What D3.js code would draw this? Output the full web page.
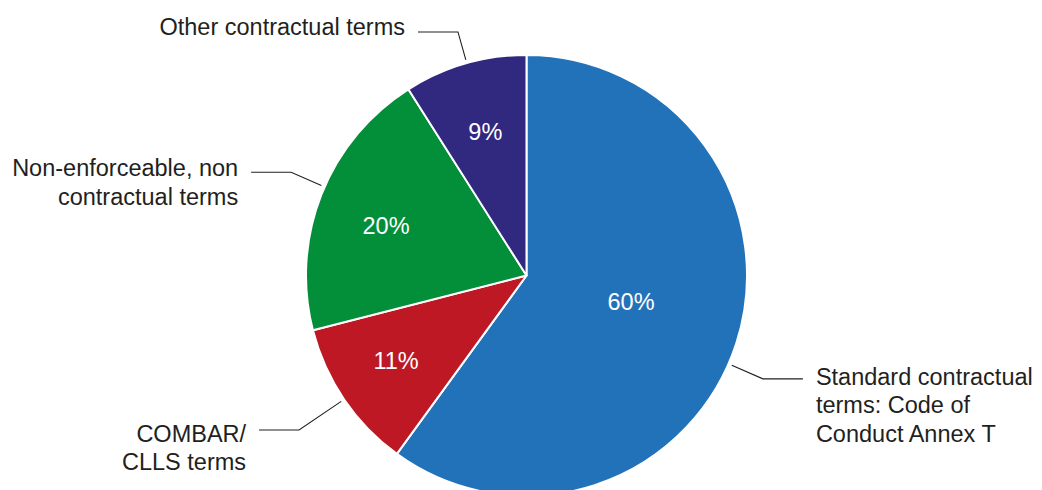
<!DOCTYPE html>
<html>
<head>
<meta charset="utf-8">
<script src="https://cdn.jsdelivr.net/npm/d3@7"></script>
<style>
  html, body { margin: 0; padding: 0; background: #fff; }
  svg { display: block; }
  text { font-family: "Liberation Sans", Arial, Helvetica, sans-serif; }
</style>
</head>
<body>
<div id="chart"></div>
<script>
// Share of contract terms by type (%)
const categories = [
  "Standard contractual terms: Code of Conduct Annex T",
  "COMBAR/ CLLS terms",
  "Non-enforceable, non contractual terms",
  "Other contractual terms"
];
const shares = [60, 11, 20, 9];
const labelLines = [
  ["Standard contractual", "terms: Code of", "Conduct Annex T"],
  ["COMBAR/", "CLLS terms"],
  ["Non-enforceable, non", "contractual terms"],
  ["Other contractual terms"]
];
const colors = ["#2272b9", "#bd1823", "#038f3a", "#31287f"];

// Layout
const width = 1042, height = 490;
const cx = 526.5, cy = 275.5, R = 220.5;
const fontSize = 23.5, lineHeight = 28.5;
const textColor = "#231f20";
// where inside each slice (fraction of its sweep) the value label and the leader sit
const valueAt = [0.482, 0.525, 0.472, 0.506];
const valueR = [0.489, 0.707, 0.676, 0.677];
const leaderAt = [0.526, 0.5, 0.529, 0.515];
const leaderStartR = R + 3.5;
const elbowR = [258, 275, 257, 253];
const leaderRun = 40, textGap = 13;
const textDy = [6, 11.7, 4, 3.3];

const svg = d3.select("#chart").append("svg")
  .attr("width", width).attr("height", height);

const data = categories.map((c, i) => ({ name: c, value: shares[i], i }));
const pie = d3.pie().value(d => d.value).sort(null);
const arcs = pie(data);
const arc = d3.arc().innerRadius(0).outerRadius(R);

const g = svg.append("g").attr("transform", `translate(${cx},${cy})`);

g.selectAll("path.slice").data(arcs).join("path")
  .attr("class", "slice")
  .attr("d", arc)
  .attr("fill", d => colors[d.data.i])
  .attr("stroke", "#fff")
  .attr("stroke-width", 2)
  .attr("stroke-linejoin", "round");

const polar = (a, r) => [Math.sin(a) * r, -Math.cos(a) * r];
const angleAt = (d, f) => d.startAngle + (d.endAngle - d.startAngle) * f;

// value labels inside the slices
g.selectAll("text.value").data(arcs).join("text")
  .attr("class", "value")
  .each(function(d) {
    const [x, y] = polar(angleAt(d, valueAt[d.data.i]), R * valueR[d.data.i]);
    d3.select(this).attr("x", x).attr("y", y);
  })
  .attr("dy", "0.358em")
  .attr("text-anchor", "middle")
  .attr("fill", "#fff")
  .attr("font-size", fontSize)
  .text(d => d.data.value + "%");

// leader lines and category labels
arcs.forEach(d => {
  const i = d.data.i;
  const a = angleAt(d, leaderAt[i]);
  const right = Math.sin(a) > 0;
  const p0 = polar(a, leaderStartR);
  const p1 = polar(a, elbowR[i]);
  const p2 = [p1[0] + (right ? leaderRun : -leaderRun), p1[1]];
  g.append("path")
    .attr("d", d3.line()([p0, p1, p2]))
    .attr("fill", "none")
    .attr("stroke", textColor)
    .attr("stroke-width", 1.1);

  const t = g.append("text")
    .attr("x", p2[0] + (right ? textGap : -textGap))
    .attr("y", p2[1] + textDy[i])
    .attr("text-anchor", right ? "start" : "end")
    .attr("fill", textColor)
    .attr("font-size", fontSize);
  labelLines[i].forEach((ln, k) => {
    t.append("tspan")
      .attr("x", p2[0] + (right ? textGap : -textGap))
      .attr("dy", k === 0 ? 0 : lineHeight)
      .text(ln);
  });
});
</script>
</body>
</html>
